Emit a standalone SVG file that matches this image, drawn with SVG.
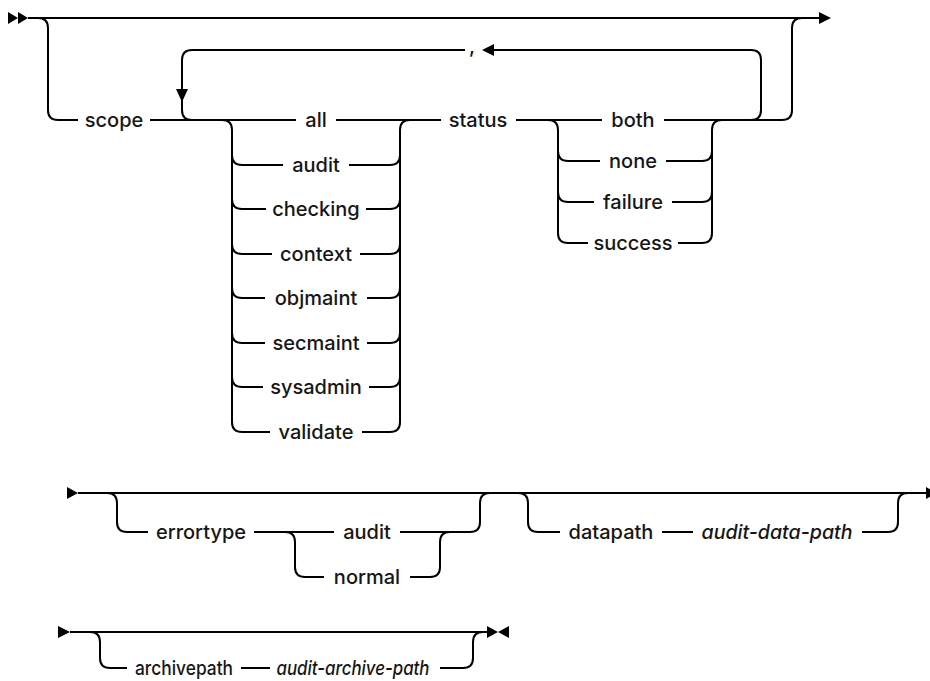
<svg xmlns="http://www.w3.org/2000/svg" width="930" height="681" viewBox="0 0 930 681">
  <style>
    .ln { fill: none; stroke: #000; stroke-width: 2; stroke-linecap: butt; stroke-linejoin: round; }
    .ah { fill: #000; stroke: none; }
    text { font-family: Inter, "Open Sans", sans-serif; font-size: 20px; font-weight: 500; fill: #161616; text-anchor: middle; }
    .var { font-style: italic; }
  </style>
  <rect width="930" height="681" fill="#fff"/>

  <!-- railroad tracks -->
  <g id="connectors">
    <!-- section 1: scope / status -->
    <polygon class="ah" points="8,12 18,18 8,24"/>
    <polygon class="ah" points="18,12 28,18 18,24"/>
    <path class="ln" d="M28,18 H820"/>
    <polygon class="ah" points="819,12 831,18 819,24"/>
    <path class="ln" d="M38,18 Q48,18 48,28 V110 Q48,120 58,120 H78"/>
    <path class="ln" d="M150,120 H296"/>
    <!-- repeat loop with separator -->
    <path class="ln" d="M465,50 H192 Q182,50 182,60 V110 Q182,120 192,120"/>
    <polygon class="ah" points="176,89 188,89 182,102"/>
    <path class="ln" d="M492,50 H751 Q761,50 761,60 V110 Q761,120 751,120"/>
    <polygon class="ah" points="482,50 494,44 494,56"/>
    <!-- scope choices -->
    <path class="ln" d="M222,120 Q232,120 232,130 V422 Q232,432 242,432 H270"/>
    <path class="ln" d="M232,155 Q232,165 242,165 H283"/>
    <path class="ln" d="M232,199 Q232,209 242,209 H266"/>
    <path class="ln" d="M232,244 Q232,254 242,254 H272"/>
    <path class="ln" d="M232,288 Q232,298 242,298 H265"/>
    <path class="ln" d="M232,333 Q232,343 242,343 H265"/>
    <path class="ln" d="M232,377 Q232,387 242,387 H263"/>
    <path class="ln" d="M336,120 H441"/>
    <path class="ln" d="M410,120 Q400,120 400,130 V422 Q400,432 390,432 H362"/>
    <path class="ln" d="M349,165 H390 Q400,165 400,155"/>
    <path class="ln" d="M366,209 H390 Q400,209 400,199"/>
    <path class="ln" d="M360,254 H390 Q400,254 400,244"/>
    <path class="ln" d="M367,298 H390 Q400,298 400,288"/>
    <path class="ln" d="M367,343 H390 Q400,343 400,333"/>
    <path class="ln" d="M369,387 H390 Q400,387 400,377"/>
    <!-- status choices -->
    <path class="ln" d="M516,120 H602"/>
    <path class="ln" d="M548,120 Q558,120 558,130 V233 Q558,243 568,243 H588"/>
    <path class="ln" d="M558,151 Q558,161 568,161 H600"/>
    <path class="ln" d="M558,192 Q558,202 568,202 H594"/>
    <path class="ln" d="M664,120 H782 Q792,120 792,110 V28 Q792,18 802,18"/>
    <path class="ln" d="M722,120 Q712,120 712,130 V233 Q712,243 702,243 H678"/>
    <path class="ln" d="M666,161 H702 Q712,161 712,151"/>
    <path class="ln" d="M672,202 H702 Q712,202 712,192"/>

    <!-- section 2: errortype / datapath -->
    <polygon class="ah" points="67,487 78,493 67,499"/>
    <path class="ln" d="M78,493 H927"/>
    <polygon class="ah" points="926,487 937,493 926,499"/>
    <path class="ln" d="M107,493 Q117,493 117,503 V522 Q117,532 127,532 H148"/>
    <path class="ln" d="M254,532 H334"/>
    <path class="ln" d="M285,532 Q295,532 295,542 V567 Q295,577 305,577 H324"/>
    <path class="ln" d="M400,532 H470 Q480,532 480,522 V503 Q480,493 490,493"/>
    <path class="ln" d="M410,577 H430 Q440,577 440,567 V542 Q440,532 450,532"/>
    <path class="ln" d="M518,493 Q528,493 528,503 V522 Q528,532 538,532 H560"/>
    <path class="ln" d="M662,532 H693"/>
    <path class="ln" d="M862,532 H888 Q898,532 898,522 V503 Q898,493 908,493"/>

    <!-- section 3: archivepath -->
    <polygon class="ah" points="58,626 70,632 58,638"/>
    <path class="ln" d="M70,632 H488"/>
    <polygon class="ah" points="487,626 498,632 487,638"/>
    <polygon class="ah" points="509,626 498,632 509,638"/>
    <path class="ln" d="M90,632 Q100,632 100,642 V658 Q100,668 110,668 H127"/>
    <path class="ln" d="M241,668 H270"/>
    <path class="ln" d="M440,668 H463 Q473,668 473,658 V642 Q473,632 483,632"/>
  </g>

  <!-- keywords and variables -->
  <g id="kw-scope"><text x="114" y="127">scope</text></g>
  <g id="sep-comma"><text x="472" y="53">,</text></g>
  <g id="kw-all"><text x="316" y="127">all</text></g>
  <g id="kw-audit"><text x="316" y="172">audit</text></g>
  <g id="kw-checking"><text x="316" y="216">checking</text></g>
  <g id="kw-context"><text x="316" y="261">context</text></g>
  <g id="kw-objmaint"><text x="316" y="305">objmaint</text></g>
  <g id="kw-secmaint"><text x="316" y="350">secmaint</text></g>
  <g id="kw-sysadmin"><text x="316" y="394">sysadmin</text></g>
  <g id="kw-validate"><text x="316" y="439">validate</text></g>
  <g id="kw-status"><text x="478" y="127">status</text></g>
  <g id="kw-both"><text x="633" y="127">both</text></g>
  <g id="kw-none"><text x="633" y="168">none</text></g>
  <g id="kw-failure"><text x="633" y="209">failure</text></g>
  <g id="kw-success"><text x="633" y="250">success</text></g>

  <g id="kw-errortype"><text x="201" y="539">errortype</text></g>
  <g id="kw-et-audit"><text x="367" y="539">audit</text></g>
  <g id="kw-et-normal"><text x="367" y="584">normal</text></g>
  <g id="kw-datapath"><text x="611" y="539">datapath</text></g>
  <g id="var-audit-data-path"><text class="var" x="777" y="539" textLength="151" lengthAdjust="spacingAndGlyphs">audit-data-path</text></g>

  <g id="kw-archivepath"><text x="184" y="675" textLength="98" lengthAdjust="spacingAndGlyphs">archivepath</text></g>
  <g id="var-audit-archive-path"><text class="var" x="353" y="675" textLength="153" lengthAdjust="spacingAndGlyphs">audit-archive-path</text></g>
</svg>
